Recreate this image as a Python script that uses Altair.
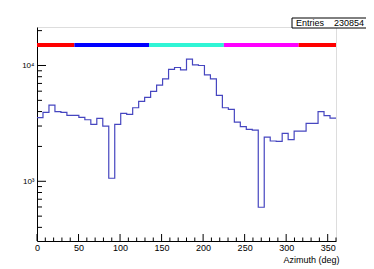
import altair as alt
import pandas as pd

# Histogram: 50 bins of 7.2 deg over 0..360
bin_width = 7.2
counts = [3540, 3935, 4550, 3990, 3935, 3707, 3707, 3563, 3401, 3100,
          3493, 3000, 1062, 3100, 3857, 3782, 4318, 4895, 5300, 5970,
          6766, 7676, 9240, 9610, 9180, 11340, 10130, 10000, 8310, 7676,
          5510, 4318, 4175, 3248, 2960, 2808, 2770, 597, 2410, 2228,
          2213, 2594, 2287, 2716, 2716, 3162, 3162, 3990, 3683, 3516]
edges = [round(i * bin_width, 1) for i in range(len(counts) + 1)]

# Coloured sector bars at the top
seg_start = [0, 45, 135, 225, 315]
seg_end = [45, 135, 225, 315, 360]
seg_color = ["#ff0000", "#0000ff", "#30f5d5", "#ff00ff", "#ff0000"]
seg_level = 15000

# Axis ticks
x_major = [0, 50, 100, 150, 200, 250, 300, 350]
x_minor = [v for v in range(0, 361, 10) if v % 50 != 0]
y_major = [1000, 10000]
y_minor = [400, 500, 600, 700, 800, 900, 2000, 3000, 4000, 5000,
           6000, 7000, 8000, 9000, 20000]

entries_label = "Entries"
entries_value = "230854"

W, H = 299, 214
FONT = "Liberation Sans"

hist = pd.DataFrame({"x": edges, "y": counts + [counts[-1]]})
segs = pd.DataFrame({"x": seg_start, "x2": seg_end, "c": seg_color,
                     "y": [seg_level] * len(seg_start)})

xs = alt.Scale(domain=[0, 360], nice=False, zero=False)
ys = alt.Scale(type="log", domain=[305, 21500], nice=False)

xaxis = alt.Axis(values=x_major, ticks=False, tickSize=0, grid=False,
                 domainColor="black", labelFont=FONT, labelFontSize=9,
                 labelColor="black", labelPadding=2, labelOverlap=False,
                 labelBound=False, labelFlush=False,
                 title="Azimuth (deg)", titleFont=FONT, titleFontSize=9,
                 titleFontWeight="normal", titleColor="black",
                 titleAnchor="end", titleAlign="right", titleX=302,
                 titleY=21, titleBaseline="alphabetic")
yaxis = alt.Axis(values=y_major, ticks=False, tickSize=0, grid=False,
                 domainColor="black", labelFont=FONT, labelFontSize=8,
                 labelColor="black", labelPadding=3,
                 labelExpr="datum.value == 1000 ? '10³' : '10⁴'",
                 title=None)

X = alt.X("x:Q", scale=xs, axis=xaxis)
Y = alt.Y("y:Q", scale=ys, axis=yaxis)

line = alt.Chart(hist).mark_line(interpolate="step-after", color="#4646c0",
                                 strokeWidth=1.2).encode(x=X, y=Y)

bars = alt.Chart(segs).mark_rule(strokeWidth=4).encode(
    x=X, x2="x2:Q", y=Y, color=alt.Color("c:N", scale=None))

ytick_min = alt.Chart(pd.DataFrame({"y": y_minor})).mark_rule(
    color="black", strokeWidth=1).encode(y=Y, x=alt.value(0), x2=alt.value(5))
ytick_maj = alt.Chart(pd.DataFrame({"y": y_major})).mark_rule(
    color="black", strokeWidth=1).encode(y=Y, x=alt.value(0), x2=alt.value(9))
xtick_min = alt.Chart(pd.DataFrame({"x": x_minor})).mark_rule(
    color="black", strokeWidth=1).encode(x=X, y=alt.value(H), y2=alt.value(H - 3.5))
xtick_maj = alt.Chart(pd.DataFrame({"x": x_major})).mark_rule(
    color="black", strokeWidth=1).encode(x=X, y=alt.value(H), y2=alt.value(H - 7))

one = pd.DataFrame({"a": [0]})
box = alt.Chart(one).mark_rect(fill="white", stroke="black", strokeWidth=1,
                               clip=False).encode(
    x=alt.value(255), x2=alt.value(330), y=alt.value(-9), y2=alt.value(1))
t1 = alt.Chart(one).mark_text(text=entries_label, font=FONT, fontSize=9,
                              align="left", baseline="middle", color="black").encode(
    x=alt.value(259), y=alt.value(-4))
t2 = alt.Chart(one).mark_text(text=entries_value, font=FONT, fontSize=9,
                              align="right", baseline="middle", color="black").encode(
    x=alt.value(327), y=alt.value(-4))

chart = alt.layer(line, bars, ytick_min, ytick_maj, xtick_min, xtick_maj,
                  box, t1, t2).properties(
    width=W, height=H,
    autosize=alt.AutoSizeParams(type="none"),
    padding={"left": 29, "top": 19, "right": 30, "bottom": 26},
).configure_view(stroke="#555555", strokeWidth=1).configure(background="white")

chart.save("out.html", embed_options={"renderer": "svg", "actions": False})
